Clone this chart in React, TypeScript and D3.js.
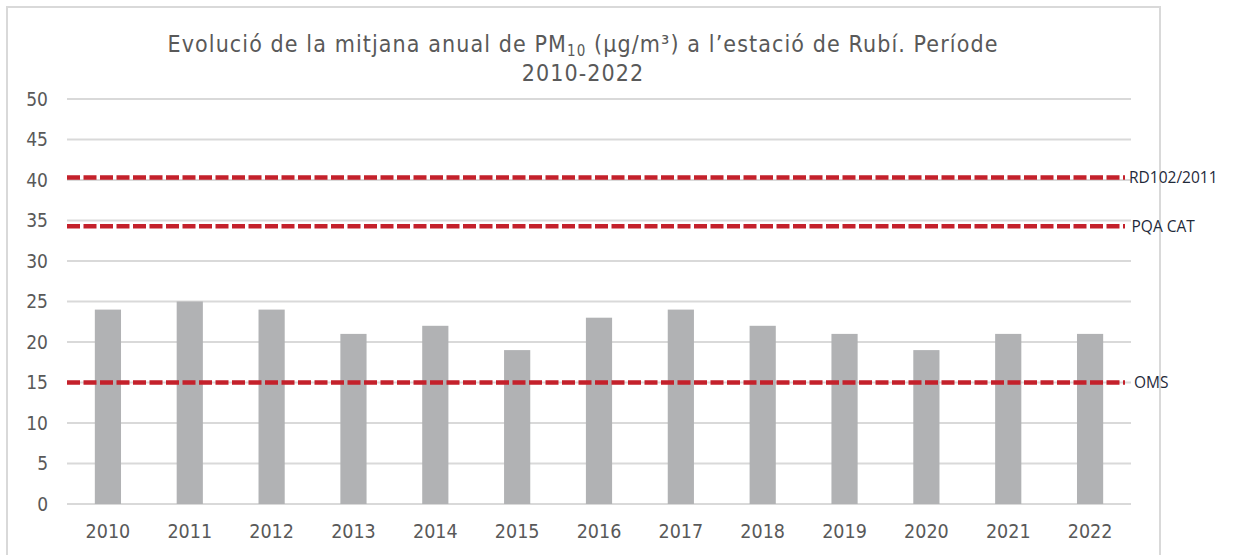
import React, { useEffect, useRef } from "react";
import * as d3 from "d3";

const years = ["2010", "2011", "2012", "2013", "2014", "2015", "2016", "2017", "2018", "2019", "2020", "2021", "2022"];
const pm10 = [24, 25, 24, 21, 22, 19, 23, 24, 22, 21, 19, 21, 21];
const yTicks = [0, 5, 10, 15, 20, 25, 30, 35, 40, 45, 50];
const limitNames = ["RD102/2011", "PQA CAT", "OMS"];
const limitValues = [40.3, 34.3, 15];

export const PmChart = () => {
  const ref = useRef<HTMLDivElement>(null);

  useEffect(() => {
    if (!ref.current) return;

    const width = 1235;
    const height = 555;
    const margin = { top: 99, right: 104, bottom: 51, left: 67 };
    const font = "'DejaVu Sans Condensed', 'DejaVu Sans', sans-serif";

    d3.select(ref.current).selectAll("*").remove();

    const svg = d3
      .select(ref.current)
      .append("svg")
      .attr("width", width)
      .attr("height", height)
      .style("display", "block");

    // outer chart border
    svg
      .append("rect")
      .attr("x", 7)
      .attr("y", 7)
      .attr("width", 1153)
      .attr("height", 620)
      .attr("fill", "#fff")
      .attr("stroke", "#d9d9d9")
      .attr("stroke-width", 2);

    const x = d3
      .scaleBand()
      .domain(years)
      .range([margin.left, width - margin.right])
      .paddingInner(0.68)
      .paddingOuter(0.34);

    const y = d3
      .scaleLinear()
      .domain([0, 50])
      .range([height - margin.bottom, margin.top]);

    // gridlines
    svg
      .append("g")
      .selectAll("line")
      .data(yTicks)
      .join("line")
      .attr("x1", margin.left)
      .attr("x2", width - margin.right)
      .attr("y1", (d) => y(d))
      .attr("y2", (d) => y(d))
      .attr("stroke", "#d9d9d9")
      .attr("stroke-width", 2);

    // y tick labels
    svg
      .append("g")
      .selectAll("text")
      .data(yTicks)
      .join("text")
      .attr("x", 48)
      .attr("y", (d) => y(d))
      .attr("dy", "0.35em")
      .attr("text-anchor", "end")
      .style("font-family", font)
      .style("font-size", "19px")
      .style("fill", "#595959")
      .text((d) => d);

    // bars
    svg
      .append("g")
      .selectAll("rect")
      .data(pm10)
      .join("rect")
      .attr("x", (d, i) => x(years[i]))
      .attr("y", (d) => y(d))
      .attr("width", x.bandwidth())
      .attr("height", (d) => y(0) - y(d))
      .attr("fill", "#b1b2b4");

    // x tick labels
    svg
      .append("g")
      .selectAll("text")
      .data(years)
      .join("text")
      .attr("x", (d) => x(d) + x.bandwidth() / 2)
      .attr("y", 531)
      .attr("dy", "0.35em")
      .attr("text-anchor", "middle")
      .style("font-family", font)
      .style("font-size", "19.5px")
      .style("fill", "#595959")
      .text((d) => d);

    // limit lines
    const lim = svg.append("g");
    lim
      .selectAll("line")
      .data(limitValues)
      .join("line")
      .attr("x1", margin.left)
      .attr("x2", width - margin.right - 6)
      .attr("y1", (d) => y(d))
      .attr("y2", (d) => y(d))
      .attr("stroke", "#c4212b")
      .attr("stroke-width", 4.5)
      .attr("stroke-dasharray", "13 3.5");

    lim
      .selectAll("text")
      .data(limitValues)
      .join("text")
      .attr("x", (d, i) => width - margin.right - 2 + i * 2.5)
      .attr("y", (d) => y(d))
      .attr("dy", "0.35em")
      .style("font-family", "'Open Sans', sans-serif")
      .style("font-size", "15.5px")
      .style("fill", "#1f2a3a")
      .text((d, i) => limitNames[i]);

    // title
    const title = svg
      .append("text")
      .attr("x", 583)
      .attr("y", 52)
      .attr("text-anchor", "middle")
      .style("font-family", font)
      .style("font-size", "23px")
      .style("letter-spacing", "1.1px")
      .style("fill", "#595959");
    title.append("tspan").text("Evolució de la mitjana anual de PM");
    title
      .append("tspan")
      .attr("baseline-shift", "-25%")
      .style("font-size", "15px")
      .text("10");
    title.append("tspan").text(" (µg/m³) a l’estació de Rubí. Període");

    svg
      .append("text")
      .attr("x", 583)
      .attr("y", 81)
      .attr("text-anchor", "middle")
      .style("font-family", font)
      .style("font-size", "23px")
      .style("letter-spacing", "1.1px")
      .style("fill", "#595959")
      .text("2010-2022");
  }, []);

  return <div ref={ref} style={{ position: "absolute", left: 0, top: 0 }}></div>;
};

export default function App() {
  return <PmChart />;
}
